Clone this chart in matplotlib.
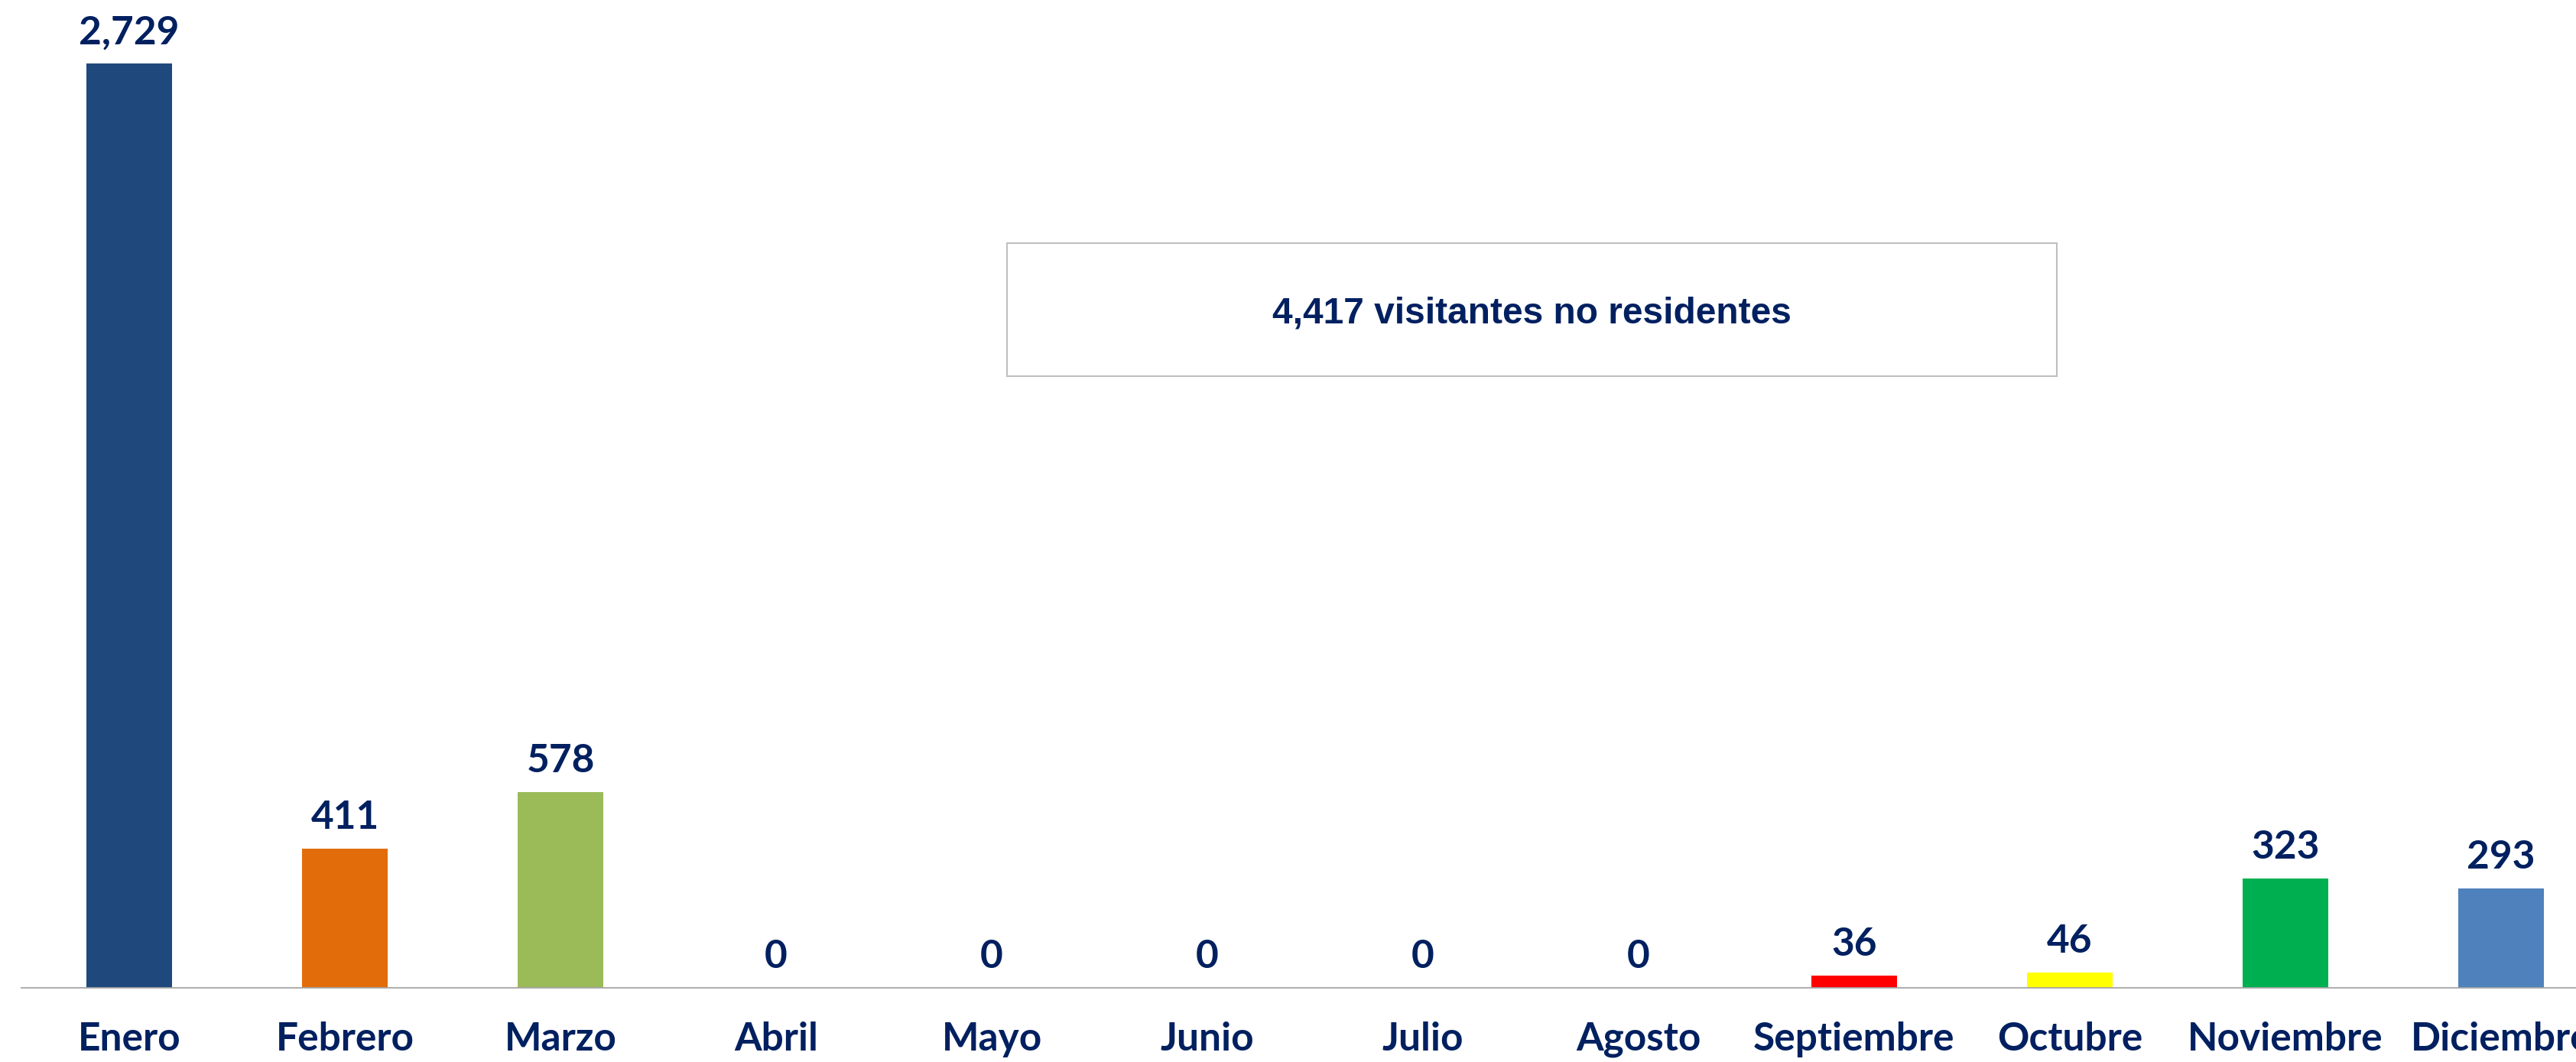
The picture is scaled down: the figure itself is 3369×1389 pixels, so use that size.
import matplotlib.pyplot as plt
from matplotlib.patches import Rectangle

meses = ["Enero", "Febrero", "Marzo", "Abril", "Mayo", "Junio", "Julio",
         "Agosto", "Septiembre", "Octubre", "Noviembre", "Diciembre"]
visitantes = [2729, 411, 578, 0, 0, 0, 0, 0, 36, 46, 323, 293]
colores = ["#1F497D", "#E36C0A", "#9BBB59", "#8064A2", "#4BACC6", "#F79646",
           "#C0504D", "#7F7F7F", "#FF0000", "#FFFF00", "#00B050", "#4F81BD"]
total_texto = "4,417 visitantes no residentes"

azul = "#002060"

fig = plt.figure(figsize=(33.69, 13.89), dpi=100)
ax = fig.add_axes([28 / 3369, (1389 - 1292) / 1389, 12 * 282 / 3369, 1292 / 1389])

x = range(len(meses))
ax.bar(x, visitantes, width=0.4, color=colores, zorder=2)
ax.set_xlim(-0.5, 11.5)
ax.set_ylim(0, 1292 / 0.443)

for i, v in enumerate(visitantes):
    ax.annotate(f"{v:,}", (i, v), xytext=(0, 29), textcoords="offset points",
                ha="center", va="center", fontsize=37, fontweight="bold",
                color=azul, family="Lato")

ax.set_xticks(list(x))
ax.set_xticklabels(meses, fontsize=37, fontweight="bold", color=azul, family="Lato")
ax.tick_params(axis="x", length=0, pad=32)
ax.set_yticks([])

for s in ["top", "right", "left"]:
    ax.spines[s].set_visible(False)
ax.spines["bottom"].set_color("#A6A6A6")
ax.spines["bottom"].set_linewidth(1.3)

# cuadro con el total
caja = Rectangle((1317 / 3369, (1389 - 492) / 1389), 1373 / 3369, 174 / 1389,
                 transform=fig.transFigure, facecolor="white", edgecolor="#BFBFBF",
                 linewidth=1.5, zorder=5)
fig.add_artist(caja)
fig.text(2003 / 3369, (1389 - 410) / 1389, total_texto, ha="center", va="center",
         fontsize=34.5, fontweight="bold", color=azul, family="Liberation Sans", zorder=6)

fig.savefig("out.png", dpi=100)
